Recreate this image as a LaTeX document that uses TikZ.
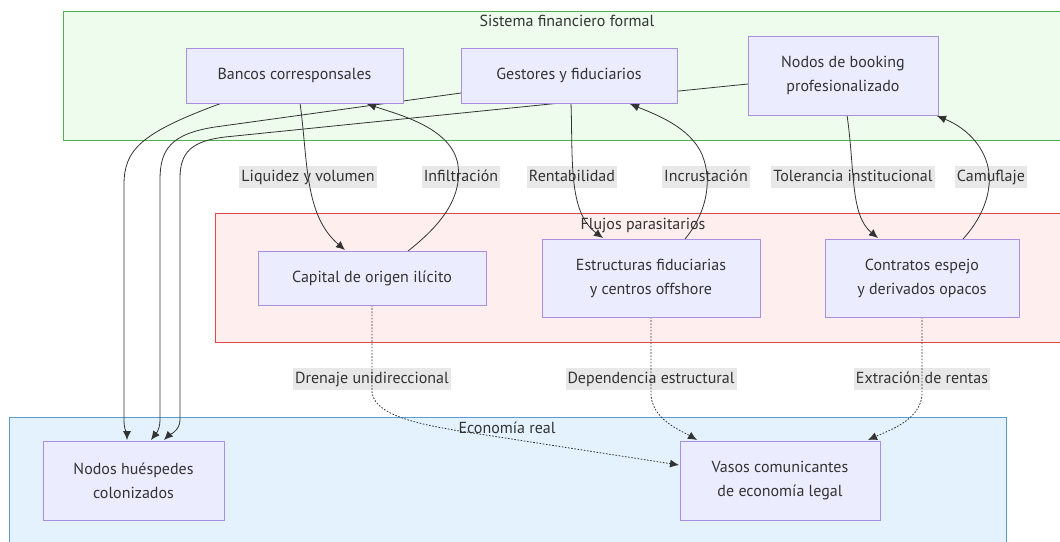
\documentclass[tikz,border=0pt]{standalone}
\usepackage{fontspec}
\setmainfont{PT Sans}
\usetikzlibrary{arrows.meta}
\definecolor{txt}{HTML}{333333}
\definecolor{nodefill}{HTML}{ECECFF}
\definecolor{nodeline}{HTML}{A98FE0}
\definecolor{lblfill}{HTML}{E8E8E8}
\definecolor{grnfill}{HTML}{EEFCEE}
\definecolor{grnline}{HTML}{52B152}
\definecolor{redfill}{HTML}{FFEEEE}
\definecolor{redline}{HTML}{E2464B}
\definecolor{blufill}{HTML}{E3F2FD}
\definecolor{bluline}{HTML}{5B9BD5}
\definecolor{edge}{HTML}{333333}
\tikzset{
  txtstyle/.style={text=txt, font=\fontsize{16}{24}\selectfont},
  box/.style={txtstyle, draw=nodeline, fill=nodefill, line width=1pt, align=center, inner sep=0pt},
  elabel/.style={txtstyle, fill=lblfill, inner xsep=2pt, inner ysep=0pt, text height=15pt, text depth=7pt},
  ctitle/.style={txtstyle},
  flow/.style={draw=edge, line width=0.8pt, -{Latex[length=9pt,width=8pt]}},
  dflow/.style={flow, dash pattern=on 1.6pt off 1.6pt},
}
\begin{document}
\begin{tikzpicture}[x=1pt,y=-1pt]
\clip (0,0) rectangle (1060,541);
\fill[white] (0,0) rectangle (1060,541);

% subgraph frames
\draw[grnline, fill=grnfill, line width=1pt] (63,11) rectangle (1070,140);
\draw[redline, fill=redfill, line width=1pt] (215,213) rectangle (1070,342);
\draw[bluline, fill=blufill, line width=1pt] (9,417) rectangle (1006,560);

\node[ctitle] (tsf) at (567,21) {Sistema financiero formal};
\node[ctitle] (tfp) at (643,226) {Flujos parasitarios};
\node[ctitle] (ter) at (507,428) {Economía real};

% edge labels
\node[elabel] (l1) at (308,177) {Liquidez y volumen};
\node[elabel] (l2) at (461,177) {Infiltración};
\node[elabel] (l3) at (572,177) {Rentabilidad};
\node[elabel] (l4) at (706,177) {Incrustación};
\node[elabel] (l5) at (853,177) {Tolerancia institucional};
\node[elabel] (l6) at (991,177) {Camuflaje};
\node[elabel] (l7) at (372,379) {Drenaje unidireccional};
\node[elabel] (l8) at (651,379) {Dependencia estructural};
\node[elabel] (l9) at (922,379) {Extración de rentas};

% node centres (boxes are drawn after the connectors)
\path
  (294.5,75.5) coordinate (pbc)
  (569,75.5) coordinate (pgf)
  (843,75.5) coordinate (pnb)
  (372,278) coordinate (pci)
  (651,278) coordinate (pef)
  (922,278) coordinate (pce)
  (133.5,480.5) coordinate (pnh)
  (780,480.5) coordinate (pvc);

% solid connectors
\draw[flow] (300,103) .. controls (308,160) and (304,215) .. (345,250);
\draw[flow] (408,251) .. controls (445,222) and (462,195) .. (458,165) .. controls (452,128) and (400,115) .. (367,104);
\draw[flow] (571,103) .. controls (573,160) and (568,212) .. (603,238);
\draw[flow] (685,239) .. controls (705,215) and (712,185) .. (704,160) .. controls (695,130) and (660,116) .. (630,104);
\draw[flow] (847,115) .. controls (855,170) and (850,215) .. (878,238);
\draw[flow] (963,239) .. controls (985,215) and (995,185) .. (986,160) .. controls (977,136) and (957,124) .. (937,116);

% connectors down to the host nodes
\draw[flow] (222,103) .. controls (140,133) and (124,150) .. (124,185) -- (124,420) .. controls (124,430) and (127,434) .. (127,440);
\draw[flow] (461,93) -- (215,127) .. controls (170,134) and (160,150) .. (160,180) -- (160,420) .. controls (160,431) and (154,436) .. (151,440);
\draw[flow] (748,84) -- (225,137) .. controls (192,141) and (180,152) .. (180,178) -- (180,420) .. controls (180,431) and (168,436) .. (164,440);

% dotted connectors into the legal economy
\draw[dflow] (372,305) -- (372,392) .. controls (374,413) and (410,423) .. (460,431) -- (679,465);
\draw[dflow] (651,317) -- (651,395) .. controls (653,420) and (680,430) .. (697,440);
\draw[dflow] (922,317) -- (922,395) .. controls (920,420) and (890,430) .. (868,440);

% nodes
\node[box, minimum width=217pt, minimum height=55pt] (bc) at (pbc) {Bancos corresponsales};
\node[box, minimum width=216pt, minimum height=55pt] (gf) at (pgf) {Gestores y fiduciarios};
\node[box, minimum width=190pt, minimum height=79pt] (nb) at (pnb) {Nodos de booking\\profesionalizado};
\node[box, minimum width=228pt, minimum height=54pt] (ci) at (pci) {Capital de origen ilícito};
\node[box, minimum width=218pt, minimum height=78pt] (ef) at (pef) {Estructuras fiduciarias\\y centros offshore};
\node[box, minimum width=194pt, minimum height=78pt] (ce) at (pce) {Contratos espejo\\y derivados opacos};
\node[box, minimum width=181pt, minimum height=79pt] (nh) at (pnh) {Nodos huéspedes\\colonizados};
\node[box, minimum width=200pt, minimum height=79pt] (vc) at (pvc) {Vasos comunicantes\\de economía legal};
\end{tikzpicture}
\end{document}
